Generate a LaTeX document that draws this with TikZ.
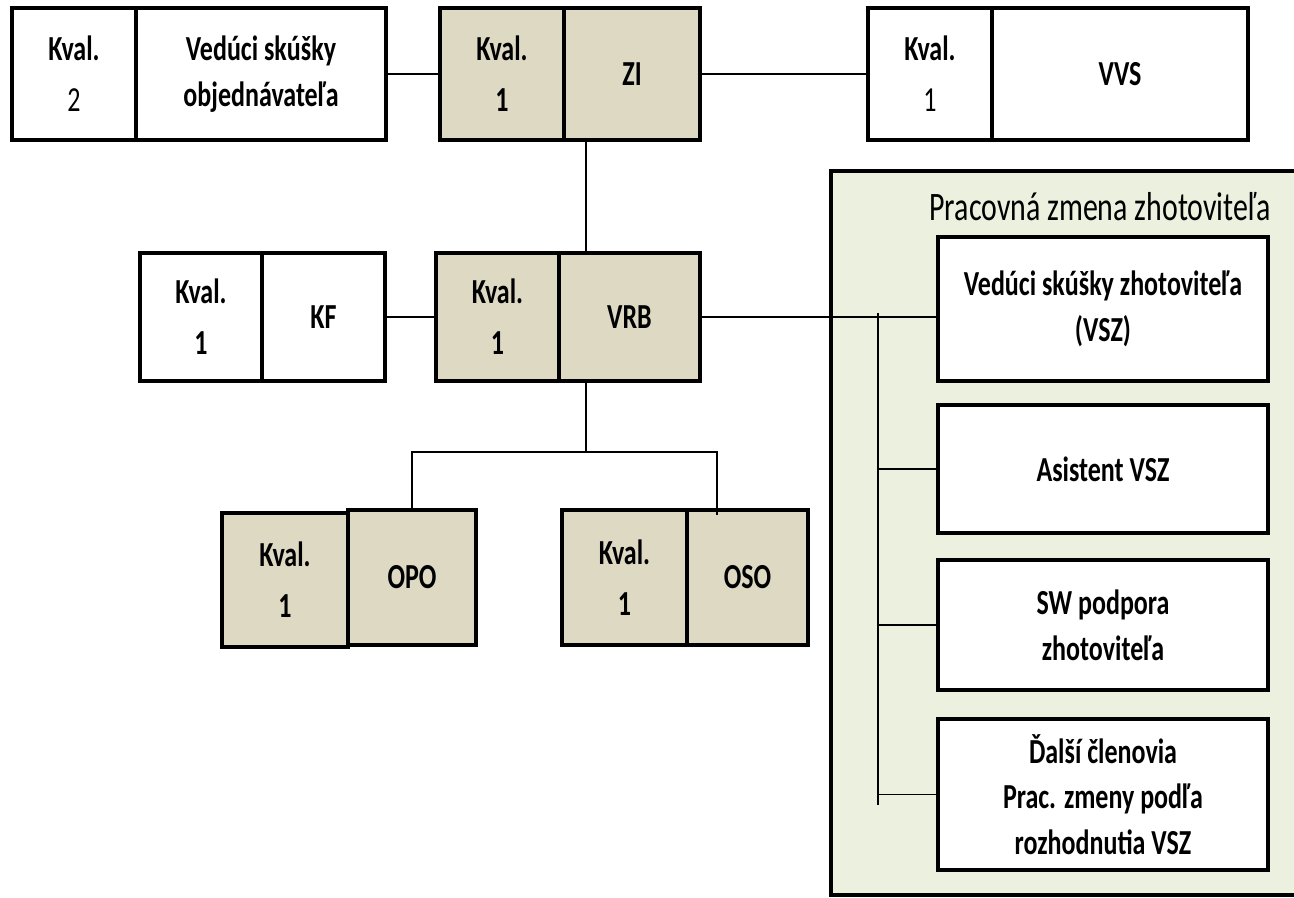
\documentclass[tikz,border=0pt]{standalone}
\usepackage{fontspec}
\setmainfont{Carlito}[FakeStretch=0.74]
\usepackage{tikz}
\definecolor{beige}{RGB}{221,217,195}
\definecolor{shiftgreen}{RGB}{235,241,222}

\begin{document}
\begin{tikzpicture}[x=0.02cm, y=-0.02cm,
    font=\fontsize{20}{26}\selectfont\bfseries,
    cell/.style={draw, line width=2.2pt, align=center, inner sep=2pt},
    tan/.style={cell, fill=beige},
    white/.style={cell, fill=white},
    kval/.style={font=\fontsize{20}{29}\selectfont\bfseries},
    link/.style={line width=1.1pt}]
  \useasboundingbox (0,0) rectangle (1294,897);

  % working shift area
  \draw[line width=2.2pt, fill=shiftgreen] (831,171) rectangle (1320,895);
  \node[font=\fontsize{23}{27}\selectfont] (title) at (1100,207) {Pracovná zmena zhotoviteľa};

  % top row
  \node[white, kval, minimum width=2.48cm, minimum height=2.64cm] (objK) at (74,74) {Kval.\\\textmd{2}};
  \node[white, minimum width=5.0cm, minimum height=2.64cm] (objN) at (261,74) {Vedúci skúšky\\objednávateľa};
  \node[tan, kval, minimum width=2.48cm, minimum height=2.64cm] (ziK) at (502,74) {Kval.\\1};
  \node[tan, minimum width=2.72cm, minimum height=2.64cm] (ziN) at (632,74) {ZI};
  \node[white, kval, minimum width=2.48cm, minimum height=2.64cm] (vvsK) at (930,74) {Kval.\\\textmd{1}};
  \node[white, minimum width=5.12cm, minimum height=2.64cm] (vvsN) at (1120,74) {VVS};

  % middle row
  \node[white, kval, minimum width=2.44cm, minimum height=2.56cm] (kfK) at (201,317) {Kval.\\1};
  \node[white, minimum width=2.46cm, minimum height=2.56cm] (kfN) at (323.5,317) {KF};
  \node[tan, kval, minimum width=2.46cm, minimum height=2.56cm] (vrbK) at (497.5,317) {Kval.\\1};
  \node[tan, minimum width=2.82cm, minimum height=2.56cm] (vrbN) at (629.5,317) {VRB};

  % bottom row
  \node[tan, kval, minimum width=2.52cm, minimum height=2.68cm] (opoK) at (285,580) {Kval.\\1};
  \node[tan, minimum width=2.56cm, minimum height=2.7cm] (opoN) at (412,577.5) {OPO};
  \node[tan, kval, minimum width=2.5cm, minimum height=2.7cm] (osoK) at (624.5,577.5) {Kval.\\1};
  \node[tan, minimum width=2.42cm, minimum height=2.7cm] (osoN) at (747.5,577.5) {OSO};

  % shift members
  \node[white, minimum width=6.6cm, minimum height=2.88cm] (vsz) at (1103,309) {Vedúci skúšky zhotoviteľa\\(VSZ)};
  \node[white, minimum width=6.6cm, minimum height=2.56cm] (asist) at (1103,469) {Asistent VSZ};
  \node[white, minimum width=6.6cm, minimum height=2.6cm] (sw) at (1103,625) {SW podpora\\zhotoviteľa};
  \node[white, minimum width=6.6cm, minimum height=3.02cm] (dalsi) at (1103,794.5) {Ďalší členovia\\Prac. zmeny podľa\\rozhodnutia VSZ};

  \coordinate (spine) at (586,0);
  \coordinate (bus) at (878,0);
  \coordinate (fork) at (586,452);
  \coordinate (osodrop) at (717,515);

  % connectors
  \draw[link] (objN.east) -- (ziK.west);
  \draw[link] (ziN.east) -- (vvsK.west);
  \draw[link] (spine |- ziN.south) -- (spine |- vrbN.north);
  \draw[link] (kfN.east) -- (vrbK.west);
  \draw[link] (vrbN.east) -- (vrbN.east -| vsz.west);
  \draw[link] (spine |- vrbN.south) -- (fork);
  \draw[link] (opoN.north) |- (fork) -| (osodrop);
  \draw[link] ([yshift=0.08cm]bus |- vrbN.east) -- ([yshift=-0.2cm]bus |- dalsi.west);
  \foreach \n in {asist,sw,dalsi}
    \draw[link] (bus |- \n.west) -- (\n.west);
\end{tikzpicture}
\end{document}
